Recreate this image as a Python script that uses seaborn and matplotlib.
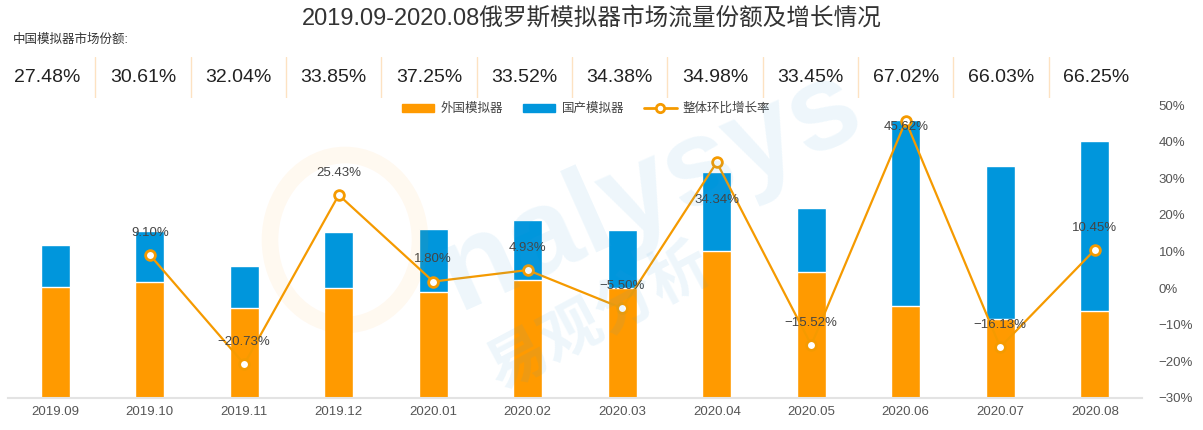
import numpy as np
import pandas as pd
import matplotlib
matplotlib.use('Agg')
import matplotlib.pyplot as plt
import seaborn as sns
from matplotlib.patches import Patch, Ellipse
from matplotlib.lines import Line2D

# data (bar heights in relative units)
months = ['2019.09', '2019.10', '2019.11', '2019.12', '2020.01', '2020.02',
          '2020.03', '2020.04', '2020.05', '2020.06', '2020.07', '2020.08']
foreign = [111.0, 115.9, 89.7, 109.8, 106.0, 118.3, 110.2, 146.9, 126.4, 91.7, 78.8, 86.7]
domestic = [42.0, 51.1, 42.3, 56.2, 63.0, 59.7, 57.8, 79.1, 63.6, 186.3, 153.2, 170.3]
growth = [np.nan, 9.10, -20.73, 25.43, 1.80, 4.93, -5.50, 34.34, -15.52, 45.62, -16.13, 10.45]
share = [27.48, 30.61, 32.04, 33.85, 37.25, 33.52, 34.38, 34.98, 33.45, 67.02, 66.03, 66.25]

ORANGE = '#FF9A00'
LINE_ORANGE = '#F59A00'
BLUE = '#0096DC'

sns.set_theme(style='white')
plt.rcParams['font.family'] = ['Liberation Sans', 'Noto Sans CJK SC', 'DejaVu Sans']
plt.rcParams['axes.unicode_minus'] = False

df = pd.DataFrame({'month': months, 'foreign': foreign, 'domestic': domestic})
df['total'] = df['foreign'] + df['domestic']

fig = plt.figure(figsize=(12.03, 4.30), dpi=100)

# title + share row
fig.text(592 / 1203, 1 - 18 / 430, '2019.09-2020.08俄罗斯模拟器市场流量份额及增长情况',
         ha='center', va='center', fontsize=17, color='#333333')
fig.text(13 / 1203, 1 - 40 / 430, '中国模拟器市场份额:', ha='left', va='center',
         fontsize=9, color='#333333')

share_ax = fig.add_axes([0, (430 - 98) / 430, 1144 / 1203, 41 / 430])
share_ax.set_xlim(-0.5, 11.5)
share_ax.set_ylim(0, 1)
share_ax.axis('off')
for i, s in enumerate(share):
    share_ax.text(i, 0.5, f'{s:.2f}%', ha='center', va='center', fontsize=14, color='#222222')
    if i < len(share) - 1:
        share_ax.plot([i + 0.5, i + 0.5], [0, 1], color='#FDE2C2', lw=1)

# bars
ax = fig.add_axes([8 / 1203, 32 / 430, 1134 / 1203, 293 / 430])
sns.barplot(data=df, x='month', y='total', color=BLUE, width=0.31, saturation=1, ax=ax)
sns.barplot(data=df, x='month', y='foreign', color=ORANGE, width=0.31, saturation=1, ax=ax)
ax.set_xlim(-0.5, 11.5)
ax.set_ylim(0, 293)
ax.set_xlabel('')
ax.set_ylabel('')
ax.set_yticks([])
for side in ['left', 'right', 'top']:
    ax.spines[side].set_visible(False)
ax.spines['bottom'].set_color('#E3E3E3')
ax.spines['bottom'].set_linewidth(1.5)
ax.tick_params(axis='x', length=0, pad=6, labelsize=9.5, labelcolor='#555555')

# growth line on right axis
ax2 = ax.twinx()
sns.lineplot(x=np.arange(len(months)), y=growth, ax=ax2, color=LINE_ORANGE, lw=1.6,
             marker='o', markersize=7, markerfacecolor='white',
             markeredgecolor=LINE_ORANGE, markeredgewidth=2)
ax2.set_ylim(-30, 50)
ax2.set_yticks(range(-30, 51, 10))
ax2.set_yticklabels([f'{v}%' if v >= 0 else f'\u2212{-v}%' for v in range(-30, 51, 10)])
ax2.tick_params(axis='y', length=0, pad=12, labelsize=9.5, labelcolor='#555555')
for side in ['left', 'right', 'top', 'bottom']:
    ax2.spines[side].set_visible(False)
ax2.set_xlim(-0.5, 11.5)

# label offsets in points (most sit above the marker)
label_dy = {7: -27, 9: -4}
for i, g in enumerate(growth):
    if np.isnan(g):
        continue
    txt = f'{g:.2f}%' if g >= 0 else f'\u2212{-g:.2f}%'
    ax2.annotate(txt, (i, g), xytext=(0, label_dy.get(i, 16)), textcoords='offset points',
                 ha='center', va='center', fontsize=9.5, color='#444444')

handles = [Patch(color=ORANGE, label='外国模拟器'),
           Patch(color=BLUE, label='国产模拟器'),
           Line2D([0], [0], color=LINE_ORANGE, lw=2, marker='o', markersize=6,
                  markerfacecolor='white', markeredgewidth=2, label='整体环比增长率')]
fig.legend(handles=handles, loc='center', bbox_to_anchor=(586 / 1203, 1 - 109 / 430),
           ncol=3, frameon=False, fontsize=9, handlelength=2.6, handleheight=0.6,
           columnspacing=1.6, handletextpad=0.5, labelcolor='#444444')

# faint watermark
fig.text(650 / 1203, 1 - 190 / 430, 'nalysys', ha='center', va='center', rotation=24,
         fontsize=88, fontweight='bold', color='#3AA0DC', alpha=0.09, zorder=10)
fig.text(600 / 1203, 1 - 318 / 430, '易观分析', ha='center', va='center', rotation=28,
         fontsize=44, fontweight='bold', color='#3AA0DC', alpha=0.09, zorder=10,
         family=['Noto Sans CJK SC'])
fig.patches.append(Ellipse((345 / 1203, 1 - 240 / 430), 150 / 1203, 170 / 430,
                           transform=fig.transFigure, fill=False, lw=12,
                           edgecolor='#FF9A00', alpha=0.06, zorder=0))

fig.savefig('out.png', dpi=100)
